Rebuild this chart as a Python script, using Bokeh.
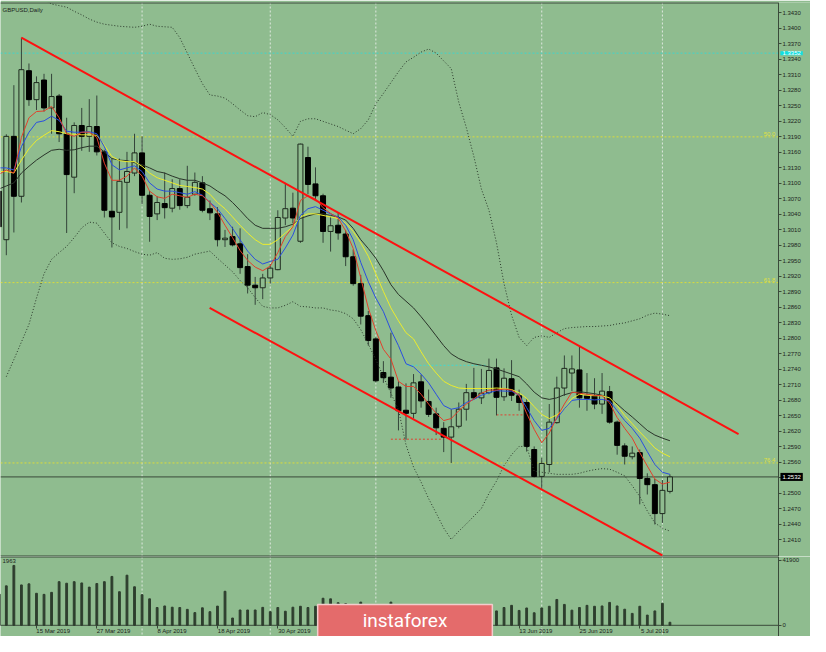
import pandas as pd
from bokeh.plotting import figure
from bokeh.layouts import column
from bokeh.models import (FixedTicker, PrintfTickFormatter, Span, Label, Range1d,
                          ColumnDataSource)
from bokeh.embed import file_html
from bokeh.resources import INLINE

# ---------------- data (GBPUSD daily) ----------------
dates = pd.bdate_range("2019-03-08", "2019-07-11")

open_ = [1.3085, 1.2991, 1.3191, 1.3075, 1.3318, 1.3262, 1.3300, 1.3246, 1.3269, 1.3196,
         1.3112, 1.3212, 1.3191, 1.3210, 1.3161, 1.3046, 1.3044, 1.3102, 1.3120, 1.3159,
         1.3077, 1.3041, 1.3061, 1.3052, 1.3090, 1.3057, 1.3079, 1.3101, 1.3051, 1.3041,
         1.2991, 1.2997, 1.2983, 1.2939, 1.2903, 1.2898, 1.2917, 1.2933, 1.3033, 1.3052,
         1.2988, 1.3150, 1.3099, 1.3076, 1.3007, 1.3019, 1.3002, 1.2958, 1.2906, 1.2844,
         1.2799, 1.2734, 1.2725, 1.2706, 1.2661, 1.2655, 1.2716, 1.2678, 1.2654, 1.2626,
         1.2609, 1.2630, 1.2663, 1.2695, 1.2685, 1.2695, 1.2743, 1.2687, 1.2722, 1.2689,
         1.2676, 1.2585, 1.2533, 1.2556, 1.2637, 1.2704, 1.2733, 1.2739, 1.2689, 1.2689,
         1.2673, 1.2697, 1.2638, 1.2592, 1.2571, 1.2579, 1.2529, 1.2517, 1.2461, 1.2504]
high = [1.3095, 1.3195, 1.3290, 1.3382, 1.3332, 1.3307, 1.3312, 1.3312, 1.3273, 1.3227,
        1.3218, 1.3246, 1.3263, 1.3270, 1.3165, 1.3148, 1.3148, 1.3161, 1.3196, 1.3191,
        1.3085, 1.3075, 1.3121, 1.3108, 1.3108, 1.3134, 1.3121, 1.3114, 1.3067, 1.3054,
        1.3010, 1.3016, 1.3013, 1.2963, 1.2919, 1.2925, 1.2944, 1.3048, 1.3101, 1.3082,
        1.3177, 1.3171, 1.3131, 1.3080, 1.3035, 1.3044, 1.3010, 1.2972, 1.2923, 1.2853,
        1.2802, 1.2756, 1.2811, 1.2717, 1.2713, 1.2731, 1.2730, 1.2701, 1.2666, 1.2638,
        1.2663, 1.2676, 1.2712, 1.2743, 1.2741, 1.2761, 1.2761, 1.2742, 1.2758, 1.2701,
        1.2682, 1.2591, 1.2569, 1.2673, 1.2726, 1.2767, 1.2767, 1.2785, 1.2733, 1.2723,
        1.2733, 1.2708, 1.2641, 1.2597, 1.2591, 1.2585, 1.2539, 1.2528, 1.2526, 1.2537]
low = [1.2978, 1.2961, 1.3005, 1.3063, 1.3250, 1.3242, 1.3239, 1.3196, 1.3180, 1.3004,
       1.3081, 1.3163, 1.3161, 1.3154, 1.3034, 1.2976, 1.3010, 1.3013, 1.3114, 1.3060,
       1.2987, 1.3029, 1.3032, 1.3044, 1.3049, 1.3052, 1.3076, 1.3044, 1.3029, 1.2978,
       1.2977, 1.2978, 1.2925, 1.2887, 1.2865, 1.2876, 1.2906, 1.2932, 1.3019, 1.3023,
       1.2985, 1.3079, 1.3067, 1.2985, 1.2968, 1.2991, 1.2940, 1.2902, 1.2827, 1.2786,
       1.2715, 1.2714, 1.2685, 1.2622, 1.2604, 1.2645, 1.2666, 1.2648, 1.2613, 1.2580,
       1.2559, 1.2626, 1.2641, 1.2682, 1.2673, 1.2692, 1.2651, 1.2679, 1.2679, 1.2660,
       1.2581, 1.2531, 1.2509, 1.2541, 1.2635, 1.2689, 1.2698, 1.2666, 1.2660, 1.2663,
       1.2654, 1.2635, 1.2575, 1.2556, 1.2566, 1.2479, 1.2498, 1.2440, 1.2443, 1.2500]
close = [1.3016, 1.3191, 1.3075, 1.3320, 1.3262, 1.3295, 1.3246, 1.3268, 1.3196, 1.3117,
         1.3212, 1.3191, 1.3210, 1.3161, 1.3048, 1.3035, 1.3104, 1.3123, 1.3159, 1.3077,
         1.3036, 1.3063, 1.3053, 1.3090, 1.3057, 1.3073, 1.3102, 1.3048, 1.3043, 1.2991,
         1.2994, 1.2981, 1.2937, 1.2903, 1.2898, 1.2917, 1.2936, 1.3034, 1.3051, 1.3033,
         1.3176, 1.3098, 1.3076, 1.3007, 1.3018, 1.3004, 1.2958, 1.2906, 1.2843, 1.2796,
         1.2718, 1.2724, 1.2704, 1.2660, 1.2655, 1.2714, 1.2679, 1.2653, 1.2627, 1.2609,
         1.2629, 1.2663, 1.2695, 1.2685, 1.2694, 1.2738, 1.2686, 1.2723, 1.2690, 1.2676,
         1.2591, 1.2533, 1.2558, 1.2638, 1.2704, 1.2742, 1.2741, 1.2685, 1.2684, 1.2673,
         1.2698, 1.2638, 1.2593, 1.2572, 1.2578, 1.2529, 1.2517, 1.2461, 1.2506, 1.2532]
volume = [20000, 25500, 38700, 26100, 26800, 20700, 20000, 21300, 28200, 27200,
          28200, 27400, 24700, 27000, 28200, 31600, 21700, 32400, 24900, 19800,
          17100, 11500, 12500, 11700, 11500, 10300, 8200, 11300, 8800, 12400,
          22000, 4700, 9900, 9900, 9900, 11600, 8800, 11500, 9100, 11700,
          12300, 11500, 12300, 17500, 17100, 14600, 14000, 10500, 15000, 11000,
          12000, 10500, 15000, 11500, 12000, 10000, 9500, 10500, 11000, 10000,
          10500, 11000, 10000, 11500, 10500, 11000, 9300, 11500, 12900, 9600,
          11200, 8100, 11200, 12300, 16700, 13500, 9800, 11500, 12900, 12300,
          12500, 14800, 12500, 10400, 7700, 12300, 6600, 9300, 14200, 1963]

ma_red = [1.3117, 1.3126, 1.3120, 1.3189, 1.3227, 1.3239, 1.3240, 1.3249, 1.3227, 1.3196,
          1.3191, 1.3199, 1.3199, 1.3189, 1.3139, 1.3106, 1.3106, 1.3114, 1.3130, 1.3114,
          1.3085, 1.3074, 1.3071, 1.3079, 1.3076, 1.3073, 1.3079, 1.3076, 1.3063, 1.3044,
          1.3019, 1.2995, 1.2970, 1.2951, 1.2938, 1.2931, 1.2940, 1.2966, 1.2997, 1.3016,
          1.3067, 1.3076, 1.3070, 1.3053, 1.3042, 1.3033, 1.3008, 1.2974, 1.2917, 1.2859,
          1.2815, 1.2779, 1.2760, 1.2717, 1.2707, 1.2707, 1.2692, 1.2673, 1.2655, 1.2641,
          1.2645, 1.2660, 1.2673, 1.2683, 1.2694, 1.2700, 1.2700, 1.2702, 1.2700, 1.2690,
          1.2655, 1.2624, 1.2598, 1.2617, 1.2647, 1.2673, 1.2696, 1.2694, 1.2692, 1.2690,
          1.2689, 1.2675, 1.2647, 1.2626, 1.2607, 1.2579, 1.2553, 1.2528, 1.2518, 1.2522]
ma_blue = [1.3130, 1.3130, 1.3126, 1.3171, 1.3199, 1.3218, 1.3221, 1.3230, 1.3222, 1.3201,
           1.3199, 1.3199, 1.3200, 1.3196, 1.3171, 1.3136, 1.3126, 1.3130, 1.3134, 1.3123,
           1.3101, 1.3089, 1.3085, 1.3085, 1.3082, 1.3079, 1.3084, 1.3077, 1.3063, 1.3051,
           1.3032, 1.3013, 1.2991, 1.2969, 1.2953, 1.2944, 1.2949, 1.2953, 1.2975, 1.3000,
           1.3038, 1.3051, 1.3055, 1.3048, 1.3041, 1.3035, 1.3019, 1.2991, 1.2947, 1.2910,
           1.2878, 1.2852, 1.2816, 1.2786, 1.2751, 1.2745, 1.2731, 1.2714, 1.2692, 1.2670,
           1.2663, 1.2666, 1.2676, 1.2682, 1.2690, 1.2695, 1.2699, 1.2698, 1.2698, 1.2690,
           1.2666, 1.2641, 1.2622, 1.2626, 1.2645, 1.2664, 1.2680, 1.2682, 1.2682, 1.2681,
           1.2682, 1.2679, 1.2660, 1.2641, 1.2626, 1.2607, 1.2581, 1.2556, 1.2541, 1.2537]
ma_yellow = [1.3123, 1.3123, 1.3120, 1.3145, 1.3167, 1.3183, 1.3193, 1.3202, 1.3200, 1.3196,
             1.3195, 1.3194, 1.3194, 1.3193, 1.3174, 1.3152, 1.3144, 1.3142, 1.3142, 1.3133,
             1.3120, 1.3111, 1.3106, 1.3101, 1.3096, 1.3094, 1.3092, 1.3089, 1.3079, 1.3063,
             1.3051, 1.3035, 1.3019, 1.3004, 1.2991, 1.2982, 1.2982, 1.2991, 1.3004, 1.3016,
             1.3035, 1.3041, 1.3041, 1.3038, 1.3035, 1.3032, 1.3023, 1.3007, 1.2985, 1.2959,
             1.2925, 1.2891, 1.2859, 1.2834, 1.2811, 1.2799, 1.2774, 1.2751, 1.2733, 1.2717,
             1.2709, 1.2704, 1.2703, 1.2703, 1.2703, 1.2703, 1.2704, 1.2703, 1.2701, 1.2695,
             1.2684, 1.2668, 1.2653, 1.2645, 1.2652, 1.2664, 1.2684, 1.2692, 1.2690, 1.2689,
             1.2689, 1.2685, 1.2670, 1.2651, 1.2635, 1.2619, 1.2604, 1.2588, 1.2578, 1.2571]
ma_dark = [1.3089, 1.3095, 1.3101, 1.3120, 1.3133, 1.3145, 1.3155, 1.3164, 1.3166, 1.3164,
           1.3165, 1.3169, 1.3172, 1.3172, 1.3161, 1.3148, 1.3145, 1.3144, 1.3140, 1.3136,
           1.3130, 1.3123, 1.3120, 1.3114, 1.3109, 1.3106, 1.3106, 1.3101, 1.3095, 1.3085,
           1.3076, 1.3063, 1.3048, 1.3032, 1.3019, 1.3013, 1.3013, 1.3013, 1.3016, 1.3021,
           1.3032, 1.3037, 1.3041, 1.3041, 1.3038, 1.3035, 1.3029, 1.3013, 1.2991, 1.2974,
           1.2955, 1.2931, 1.2904, 1.2885, 1.2872, 1.2859, 1.2842, 1.2824, 1.2805, 1.2786,
           1.2770, 1.2761, 1.2755, 1.2751, 1.2748, 1.2745, 1.2741, 1.2736, 1.2731, 1.2726,
           1.2712, 1.2696, 1.2685, 1.2682, 1.2685, 1.2691, 1.2695, 1.2697, 1.2695, 1.2693,
           1.2690, 1.2685, 1.2673, 1.2660, 1.2648, 1.2635, 1.2622, 1.2613, 1.2607, 1.2602]

bb_upper_start = 5
bb_upper = [1.3462, 1.3456, 1.3447, 1.3444, 1.3441, 1.3433, 1.3426, 1.3418, 1.3412, 1.3408,
            1.3406, 1.3404, 1.3403, 1.3402, 1.3404, 1.3408, 1.3404, 1.3403, 1.3402, 1.3382,
            1.3352, 1.3322, 1.3293, 1.3271, 1.3269, 1.3265, 1.3254, 1.3242, 1.3231, 1.3229,
            1.3237, 1.3233, 1.3223, 1.3208, 1.3191, 1.3220, 1.3225, 1.3225, 1.3220, 1.3215,
            1.3210, 1.3203, 1.3196, 1.3206, 1.3223, 1.3254, 1.3274, 1.3295, 1.3316, 1.3335,
            1.3344, 1.3354, 1.3360, 1.3352, 1.3337, 1.3322, 1.3257, 1.3208, 1.3152, 1.3089,
            1.3048, 1.2985, 1.2906, 1.2845, 1.2802, 1.2786, 1.2802, 1.2805, 1.2802, 1.2811,
            1.2819, 1.2821, 1.2822, 1.2823, 1.2823, 1.2824, 1.2825, 1.2828, 1.2830, 1.2834,
            1.2838, 1.2845, 1.2849, 1.2847, 1.2844]
bb_lower_start = 1
bb_lower = [1.2726, 1.2759, 1.2793, 1.2827, 1.2878, 1.2925, 1.2953, 1.2966, 1.2978,
            1.2995, 1.3014, 1.3025, 1.3023, 1.3004, 1.2985, 1.2978, 1.2974, 1.2968, 1.2963,
            1.2961, 1.2966, 1.2955, 1.2953, 1.2954, 1.2957, 1.2963, 1.2966, 1.2969, 1.2955,
            1.2942, 1.2929, 1.2912, 1.2898, 1.2879, 1.2862, 1.2859, 1.2859, 1.2864, 1.2871,
            1.2862, 1.2861, 1.2859, 1.2859, 1.2855, 1.2853, 1.2848, 1.2838, 1.2817, 1.2789,
            1.2759, 1.2726, 1.2694, 1.2662, 1.2594, 1.2551, 1.2522, 1.2490, 1.2462, 1.2433,
            1.2411, 1.2427, 1.2441, 1.2456, 1.2471, 1.2500, 1.2524, 1.2554, 1.2575, 1.2591,
            1.2591, 1.2543, 1.2541, 1.2539, 1.2537, 1.2537, 1.2537, 1.2539, 1.2543, 1.2546,
            1.2548, 1.2547, 1.2541, 1.2534, 1.2515, 1.2494, 1.2466, 1.2443, 1.2433, 1.2427]

# channel lines (bar index, price)
channel_upper_x = [3.0, 98.1]
channel_upper_y = [1.3382, 1.2615]
channel_lower_x = [27.96, 88.0]
channel_lower_y = [1.2859, 1.2380]

fib_levels = [1.3190, 1.2908, 1.2559]
fib_labels = ["50.0", "61.8", "76.4"]
cyan_level = 1.3352
last_price = 1.2532

# short dotted level marks: (from bar, to bar, price)
red_marks = [(52.0, 59.0, 1.2605), (66.0, 70.0, 1.2652)]
cyan_marks = [(54.2, 64.8, 1.2748)]

grid_bars = [19, 36, 50, 72, 88]
price_ticks = [1.3430, 1.3400, 1.3370, 1.3340, 1.3310, 1.3280, 1.3250, 1.3220, 1.3190,
               1.3160, 1.3130, 1.3100, 1.3070, 1.3040, 1.3010, 1.2980, 1.2950, 1.2920,
               1.2890, 1.2860, 1.2830, 1.2800, 1.2770, 1.2740, 1.2710, 1.2680, 1.2650,
               1.2620, 1.2590, 1.2560, 1.2530, 1.2500, 1.2470, 1.2440, 1.2410]
date_tick_bars = [5, 13, 21, 29, 37, 45, 53, 61, 69, 77, 85]
volume_ticks = [0, 41900]

# ---------------- styling / layout ----------------
BG = "#8fbc8f"
FRAME = "#3a4a3a"
WICK = "#34443a"
INK = "#1c241c"
FONT = "Liberation Sans"
XR = (0.2276, 107.64)      # visible bar range (frame spans the full width)
AXIS_X = 103.39            # where the price scale sits
PR = (1.2378, 1.3450)      # price range of the main panel
VR = (-7242, 44486)        # volume range of the lower panel (incl. date strip)

xs = list(range(len(close)))
bull = [c >= o for o, c in zip(open_, close)]
src = ColumnDataSource(dict(
    x=xs, o=open_, h=high, l=low, c=close,
    top=[max(o, c) for o, c in zip(open_, close)],
    bottom=[min(o, c) for o, c in zip(open_, close)],
    fill=[BG if b else "#000000" for b in bull],
    line=["#1e2a1e" if b else "#000000" for b in bull],
))

p = figure(width=810, height=556, x_range=Range1d(*XR), y_range=Range1d(*PR),
           output_backend="svg", toolbar_location=None, x_axis_location=None,
           y_axis_location="right", min_border_left=0, min_border_right=0,
           min_border_top=2, min_border_bottom=0, background_fill_color=BG,
           border_fill_color=BG, outline_line_color=None)
p.grid.visible = False

for b in grid_bars:
    p.add_layout(Span(location=b, dimension="height", line_color="#dfe8df",
                      line_dash="2 2", line_width=1, level="underlay"))
for lv in fib_levels:
    p.line([XR[0], AXIS_X], [lv, lv], line_color="#dcdc3a", line_dash="2 2", line_width=1)
p.line([XR[0], AXIS_X], [cyan_level, cyan_level], line_color="#3fd6cc",
       line_dash="2 2", line_width=1)
p.line([XR[0], AXIS_X], [last_price, last_price], line_color="#3a4a3a", line_width=1)
# panel borders (top edge and separator)
p.line([XR[0], AXIS_X], [PR[1], PR[1]], line_color=FRAME, line_width=2)
p.line([XR[0], AXIS_X], [PR[0], PR[0]], line_color=FRAME, line_width=2)

for x0, x1, lv in red_marks:
    p.line([x0, x1], [lv, lv], line_color="#e04030", line_dash="2 2", line_width=1)
for x0, x1, lv in cyan_marks:
    p.line([x0, x1], [lv, lv], line_color="#40d8d0", line_dash="2 2", line_width=1)

# candles
p.segment(x0="x", y0="h", x1="x", y1="l", source=src, line_color=WICK, line_width=1)
p.vbar(x="x", width=0.66, top="top", bottom="bottom", source=src,
       fill_color="fill", line_color="line", line_width=1)

# indicators
p.line(xs[bb_upper_start:], bb_upper, line_color="#2c3a2c", line_dash="1 2", line_width=1)
p.line(xs[bb_lower_start:], bb_lower, line_color="#2c3a2c", line_dash="1 2", line_width=1)
p.line(xs, ma_dark, line_color="#2a342a", line_width=1)
p.line(xs, ma_yellow, line_color="#ecec2c", line_width=1)
p.line(xs, ma_blue, line_color="#2a4ee0", line_width=1)
p.line(xs, ma_red, line_color="#e2402c", line_width=1)

# channel
p.line(channel_upper_x, channel_upper_y, line_color="#ff1010", line_width=2)
p.line(channel_lower_x, channel_lower_y, line_color="#ff1010", line_width=2)

ax = p.yaxis[0]
ax.fixed_location = AXIS_X
ax.ticker = FixedTicker(ticks=price_ticks)
ax.formatter = PrintfTickFormatter(format="%.4f")
ax.major_label_text_font = FONT
ax.major_label_text_font_size = "6px"
ax.major_label_text_color = INK
ax.axis_line_color = FRAME
ax.major_tick_line_color = FRAME
ax.major_tick_out = 3
ax.major_tick_in = 0
ax.minor_tick_line_color = None
ax.major_label_standoff = 1

p.add_layout(Label(x=XR[0], y=PR[1], x_offset=2, y_offset=-7, text="GBPUSD,Daily",
                   text_font=FONT, text_font_size="6px", text_color=INK,
                   text_baseline="middle"))
for lv, t in zip(fib_levels, fib_labels):
    p.add_layout(Label(x=AXIS_X, y=lv, x_offset=-3, y_offset=1, text=t, text_align="right",
                       text_baseline="bottom", text_font=FONT, text_font_size="6px",
                       text_color="#e0e040"))
p.add_layout(Label(x=AXIS_X, y=cyan_level, x_offset=2, text="%.4f" % cyan_level,
                   text_baseline="middle", text_font=FONT, text_font_size="6px",
                   text_color="white", background_fill_color="#10e0e0",
                   padding=(2, 2, 0, 0)))
p.add_layout(Label(x=AXIS_X, y=last_price, x_offset=2, text="%.4f" % last_price,
                   text_baseline="middle", text_font=FONT, text_font_size="6px",
                   text_color="white", background_fill_color="#000000", padding=2))

# ---------------- volume panel ----------------
p2 = figure(width=810, height=80, x_range=p.x_range, y_range=Range1d(*VR),
            output_backend="svg", toolbar_location=None, y_axis_location="right",
            x_axis_location="below", min_border_left=0, min_border_right=0,
            min_border_top=0, min_border_bottom=0, background_fill_color=BG,
            border_fill_color=BG, outline_line_color=None)
p2.grid.visible = False
for b in grid_bars:
    p2.add_layout(Span(location=b, dimension="height", line_color="#dfe8df",
                       line_dash="2 2", line_width=1, level="underlay"))
p2.line([XR[0], AXIS_X], [VR[1], VR[1]], line_color=FRAME, line_width=2)
p2.line([XR[0], AXIS_X], [0, 0], line_color=FRAME, line_width=1)
p2.vbar(x=xs, top=volume, width=0.24, color="#2e3e2e")

vy = p2.yaxis[0]
vy.fixed_location = AXIS_X
vy.ticker = FixedTicker(ticks=volume_ticks)
vy.formatter = PrintfTickFormatter(format="%d")
vx = p2.xaxis[0]
vx.fixed_location = 0
vx.ticker = FixedTicker(ticks=date_tick_bars)
# labels start at their bar (MT4 style): pad the left with figure spaces
vx.major_label_overrides = {
    b: "\u2007" * (len(f"{dates[b].day} {dates[b].strftime('%b %Y')}") - 1)
       + f"{dates[b].day} {dates[b].strftime('%b %Y')}"
    for b in date_tick_bars}
for a in (vy, vx):
    a.major_label_text_font = FONT
    a.major_label_text_font_size = "6px"
    a.major_label_text_color = INK
    a.axis_line_color = FRAME
    a.major_tick_line_color = FRAME
    a.major_tick_out = 3
    a.major_tick_in = 0
    a.minor_tick_line_color = None
    a.major_label_standoff = 1
vx.axis_line_color = None
vx.major_label_standoff = 0

p2.add_layout(Label(x=XR[0], y=41300, x_offset=2, text=str(volume[-1]),
                    text_font=FONT, text_font_size="6px", text_color=INK,
                    text_baseline="middle"))
p2.add_layout(Label(x=53.87, y=2850, text="instaforex", text_align="center",
                    text_baseline="middle", text_font="Roboto",
                    text_font_size="19px", text_color="white",
                    background_fill_color="#e46b6b", border_line_color="#f3cccc",
                    border_line_width=1.5, padding=(45, 45, 5, 5)))

layout = column(p, p2, spacing=0)
open("out.html", "w").write(file_html(layout, INLINE))
